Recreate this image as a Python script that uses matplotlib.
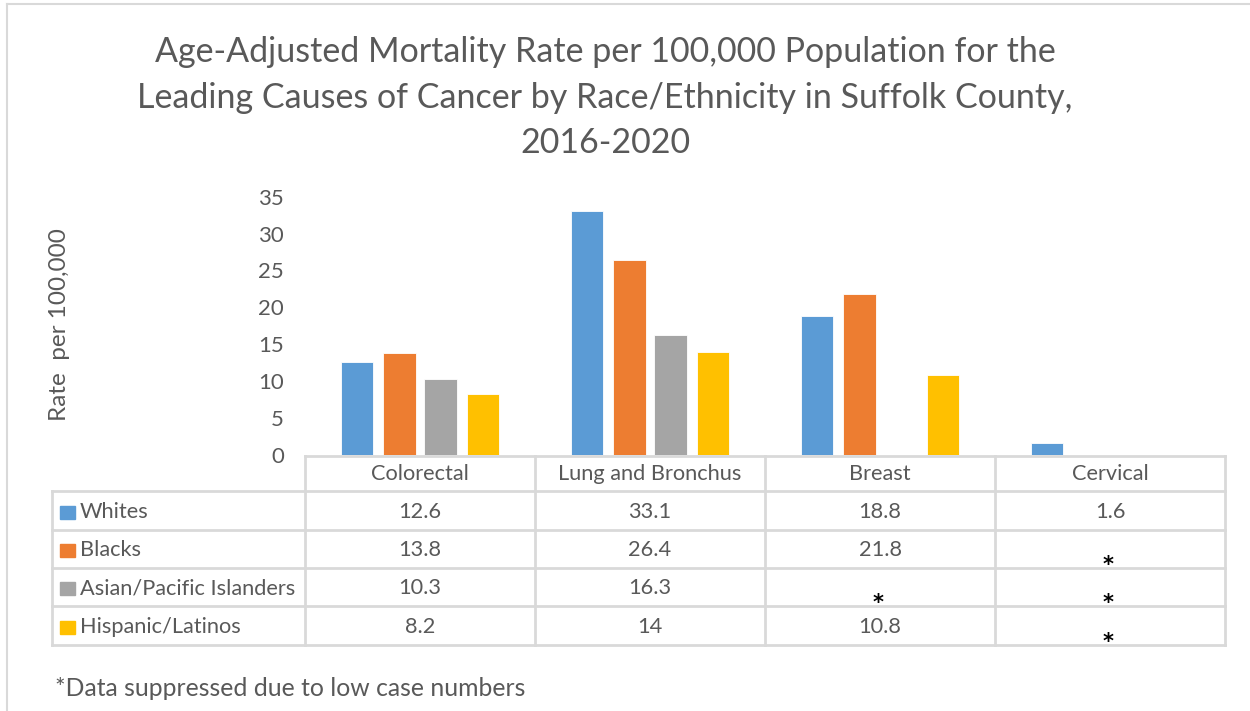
import numpy as np
import matplotlib
matplotlib.use('Agg')
import matplotlib.pyplot as plt
from matplotlib.lines import Line2D
from matplotlib.patches import Rectangle

plt.rcParams['font.family'] = ['Lato', 'DejaVu Sans']

# mortality rate per 100,000, None = suppressed
causes = ['Colorectal', 'Lung and Bronchus', 'Breast', 'Cervical']
groups = ['Whites', 'Blacks', 'Asian/Pacific Islanders', 'Hispanic/Latinos']
whites = [12.6, 33.1, 18.8, 1.6]
blacks = [13.8, 26.4, 21.8, None]
asians = [10.3, 16.3, None, None]
hispanics = [8.2, 14, 10.8, None]
colors = ['#5B9BD5', '#ED7D31', '#A5A5A5', '#FFC000']
series = [whites, blacks, asians, hispanics]

W, H = 1250, 711
TXT = '#595959'
GRID = '#D9D9D9'
TABLE_FS = 15.7

fig = plt.figure(figsize=(W / 100, H / 100), dpi=100)

def fx(x):
    return x / W

def fy(y):
    return 1 - y / H

# outer chart frame (top and left edges)
fig.add_artist(Line2D([fx(7), 1], [fy(4), fy(4)], color=GRID, lw=1.5))
fig.add_artist(Line2D([fx(7), fx(7)], [fy(4), 0], color=GRID, lw=1.5))

# title
title = ['Age-Adjusted Mortality Rate per 100,000 Population for the',
         'Leading Causes of Cancer by Race/Ethnicity in Suffolk County,',
         '2016-2020']
for i, line in enumerate(title):
    fig.text(fx(605), fy(52 + 45.5 * i), line, ha='center', va='center',
             fontsize=24.5, color=TXT)

# bar area
x0, x1 = 305, 1225
y_base, px_per_unit = 455, 7.38
ax = fig.add_axes([fx(x0), fy(y_base), (x1 - x0) / W, 35 * px_per_unit / H])
ax.set_xlim(-0.5, len(causes) - 0.5)
ax.set_ylim(0, 35)
ax.set_yticks(np.arange(0, 36, 5))
ax.tick_params(axis='y', length=0, pad=15, labelsize=16, labelcolor=TXT)
ax.set_xticks([])
for s in ax.spines.values():
    s.set_visible(False)

offsets = [-0.274, -0.091, 0.091, 0.274]
bw = 0.143
x = np.arange(len(causes))
for vals, off, c in zip(series, offsets, colors):
    v = np.array([np.nan if a is None else a for a in vals], dtype=float)
    ax.bar(x + off, v, width=bw, color=c, edgecolor='white', linewidth=0.6)

fig.text(fx(60), fy(325), 'Rate  per 100,000', rotation=90, ha='center',
         va='center', fontsize=17.5, color=TXT)

# data table below the bars
col_edges = [52, 305, 535, 765, 995, 1225]
row_edges = [456, 491, 530, 568, 606, 645]
lw = 2

def hline(y, xa, xb):
    fig.add_artist(Line2D([fx(xa), fx(xb)], [fy(y), fy(y)], color=GRID, lw=lw))

def vline(x, ya, yb):
    fig.add_artist(Line2D([fx(x), fx(x)], [fy(ya), fy(yb)], color=GRID, lw=lw))

hline(row_edges[0], col_edges[1], col_edges[-1])
for y in row_edges[1:]:
    hline(y, col_edges[0], col_edges[-1])
vline(col_edges[0], row_edges[1], row_edges[-1])
for xe in col_edges[1:]:
    vline(xe, row_edges[0], row_edges[-1])

for j, cause in enumerate(causes):
    xc = (col_edges[j + 1] + col_edges[j + 2]) / 2
    fig.text(fx(xc), fy(474), cause, ha='center', va='center', fontsize=TABLE_FS, color=TXT)

for i, (g, vals, c) in enumerate(zip(groups, series, colors)):
    ya, yb = row_edges[i + 1], row_edges[i + 2]
    yc = (ya + yb) / 2 + 1.5
    fig.add_artist(Rectangle((fx(60), fy(yc + 6.5)), 15 / W, 13 / H,
                             color=c, transform=fig.transFigure))
    fig.text(fx(80), fy(yc), g, ha='left', va='center', fontsize=TABLE_FS, color=TXT)
    for j, v in enumerate(vals):
        xc = (col_edges[j + 1] + col_edges[j + 2]) / 2
        if v is None:
            fig.text(fx(xc - 2), fy(yb - 3), '*', ha='center', va='center',
                     fontsize=15, color='black', fontweight='bold',
                     family='DejaVu Sans')
        else:
            fig.text(fx(xc), fy(yc), f'{v:g}', ha='center', va='center',
                     fontsize=TABLE_FS, color=TXT)

fig.text(fx(55), fy(688), '*Data suppressed due to low case numbers',
         ha='left', va='center', fontsize=17.8, color=TXT)

fig.savefig('out.png', dpi=100, facecolor='white')
